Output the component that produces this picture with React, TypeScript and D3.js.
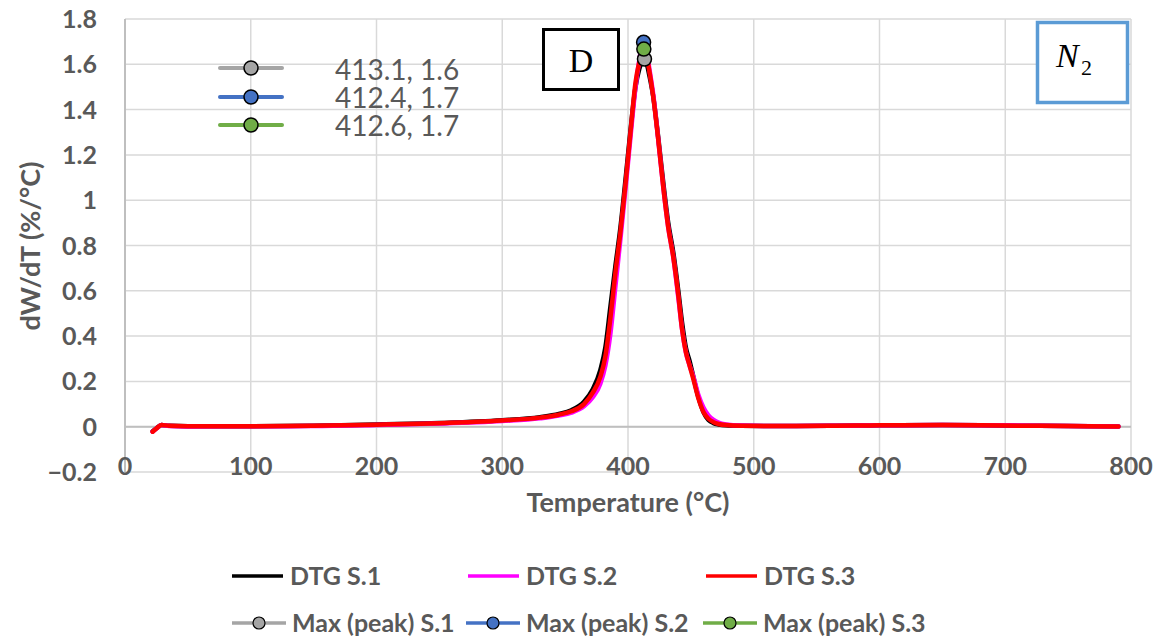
import React from "react";
import * as d3 from "d3";

const temps = [22, 25, 29, 35, 50, 100, 150, 200, 250, 300, 330, 345, 355, 365, 372, 378, 382, 386, 390, 394, 398, 402, 406, 409, 411, 413, 415, 417, 420, 424, 428, 432, 436, 440, 443, 446, 449, 452, 456, 460, 464, 468, 472, 478, 490, 520, 560, 600, 650, 700, 750, 790];

const dtgS1 = [-0.02, -0.007, 0.008, 0.004, 0.002, 0.002, 0.004, 0.01, 0.016, 0.028, 0.042, 0.056, 0.073, 0.11, 0.165, 0.25, 0.35, 0.53, 0.71, 0.88, 1.09, 1.31, 1.5, 1.58, 1.61, 1.62, 1.6, 1.55, 1.46, 1.28, 1.08, 0.9, 0.77, 0.6, 0.46, 0.35, 0.29, 0.22, 0.13, 0.065, 0.03, 0.016, 0.01, 0.006, 0.004, 0.003, 0.004, 0.006, 0.007, 0.005, 0.003, 0.001];
const dtgS2 = [-0.022, -0.008, 0.007, 0.003, 0.001, 0.002, 0.003, 0.008, 0.014, 0.025, 0.037, 0.049, 0.062, 0.09, 0.13, 0.19, 0.27, 0.41, 0.62, 0.83, 1.05, 1.28, 1.5, 1.62, 1.68, 1.69, 1.65, 1.58, 1.47, 1.27, 1.06, 0.88, 0.75, 0.57, 0.43, 0.33, 0.27, 0.22, 0.14, 0.085, 0.05, 0.03, 0.018, 0.01, 0.005, 0.003, 0.004, 0.006, 0.008, 0.006, 0.003, 0.001];
const dtgS3 = [-0.022, -0.008, 0.008, 0.004, 0.002, 0.002, 0.004, 0.009, 0.015, 0.027, 0.04, 0.053, 0.068, 0.1, 0.15, 0.22, 0.31, 0.48, 0.68, 0.86, 1.07, 1.3, 1.52, 1.61, 1.65, 1.665, 1.63, 1.57, 1.46, 1.27, 1.06, 0.88, 0.75, 0.58, 0.43, 0.33, 0.27, 0.21, 0.125, 0.065, 0.035, 0.02, 0.012, 0.007, 0.004, 0.003, 0.004, 0.006, 0.007, 0.005, 0.003, 0.001];

const peakNames = ["Max (peak) S.1", "Max (peak) S.2", "Max (peak) S.3"];
const peakT = [413.1, 412.4, 412.6];
const peakV = [1.623, 1.697, 1.667];
const peakLabels = ["413.1, 1.6", "412.4, 1.7", "412.6, 1.7"];
const peakColors = ["#a5a5a5", "#4472c4", "#70ad47"];

const dtgNames = ["DTG S.1", "DTG S.2", "DTG S.3"];
const dtgColors = ["#000000", "#ff00ff", "#ff0000"];

const xTicks = [0, 100, 200, 300, 400, 500, 600, 700, 800];
const yTicks = [-0.2, 0, 0.2, 0.4, 0.6, 0.8, 1, 1.2, 1.4, 1.6, 1.8];

const W = 1153;
const H = 641;
const TXT = "#595959";
const FONT = "Lato, 'Open Sans', sans-serif";

export default function App() {
  const x = d3.scaleLinear().domain([0, 800]).range([125, 1131]);
  const y = d3.scaleLinear().domain([-0.2, 1.8]).range([472, 19]);
  const series = [dtgS1, dtgS2, dtgS3];
  const line = d3
    .line<number>()
    .x((_, i) => x(temps[i]))
    .y((v) => y(v))
    .curve(d3.curveMonotoneX);

  const fmtY = (v: number) => (Math.abs(v) < 1e-9 ? "0" : d3.format("")(+v.toFixed(1)));

  const legendRow1X = [232, 468, 706];
  const legendRow2X = [232, 466, 703];

  return (
    <svg width={W} height={H} style={{ position: "absolute", left: 0, top: 0, background: "#fff" }}>
      <rect x={0} y={0} width={W} height={H} fill="#fff" />
      {/* gridlines */}
      {yTicks.map((t) => (
        <line key={"gy" + t} x1={x(0)} x2={x(800)} y1={y(t)} y2={y(t)} stroke="#d9d9d9" strokeWidth={1.5} />
      ))}
      {xTicks.map((t) => (
        <line key={"gx" + t} x1={x(t)} x2={x(t)} y1={y(1.8)} y2={y(-0.2)} stroke="#d9d9d9" strokeWidth={1.5} />
      ))}
      {/* axes */}
      <line x1={x(0)} x2={x(800)} y1={y(0)} y2={y(0)} stroke="#bfbfbf" strokeWidth={2} />
      <line x1={x(0)} x2={x(0)} y1={y(1.8)} y2={y(-0.2)} stroke="#bfbfbf" strokeWidth={2} />

      {/* y tick labels */}
      {yTicks.map((t) => (
        <text key={"ty" + t} x={97} y={y(t)} dy="0.36em" textAnchor="end" fontFamily={FONT} fontWeight={700} fontSize={25} fill={TXT}>
          {fmtY(t)}
        </text>
      ))}
      {/* x tick labels */}
      {xTicks.map((t) => (
        <text key={"tx" + t} x={x(t)} y={466} dy="0.36em" textAnchor="middle" fontFamily={FONT} fontWeight={700} fontSize={25} fill={TXT}>
          {t}
        </text>
      ))}

      {/* axis titles */}
      <text x={628} y={502} dy="0.36em" textAnchor="middle" fontFamily={FONT} fontWeight={700} fontSize={27} fill={TXT}>
        Temperature (°C)
      </text>
      <text transform="translate(30,246) rotate(-90)" dy="0.36em" textAnchor="middle" fontFamily={FONT} fontWeight={700} fontSize={27} fill={TXT}>
        dW/dT (%/°C)
      </text>

      {/* curves */}
      {series.map((s, i) => (
        <path key={"c" + i} d={line(s) || ""} fill="none" stroke={dtgColors[i]} strokeWidth={4.5} strokeLinejoin="round" strokeLinecap="round" />
      ))}

      {/* peak markers */}
      {peakT.map((t, i) => (
        <circle key={"pk" + i} cx={x(t)} cy={y(peakV[i])} r={7} fill={peakColors[i]} stroke="#000" strokeWidth={1.5} />
      ))}

      {/* data label keys */}
      {peakLabels.map((lab, i) => {
        const cy = [68, 97, 125][i];
        return (
          <g key={"dl" + i}>
            <line x1={220} x2={282} y1={cy} y2={cy} stroke={peakColors[i]} strokeWidth={4} strokeLinecap="round" />
            <circle cx={251} cy={cy} r={7} fill={peakColors[i]} stroke="#000" strokeWidth={1.5} />
            <text x={335} y={[70, 98, 126][i]} dy="0.36em" fontFamily={FONT} fontSize={28} fill={TXT}>
              {lab}
            </text>
          </g>
        );
      })}

      {/* D box */}
      <rect x={543.5} y={29.5} width={75} height={60} fill="#fff" stroke="#000" strokeWidth={3} />
      <text x={581} y={60} dy="0.35em" textAnchor="middle" fontFamily="'Liberation Serif', 'DejaVu Serif', serif" fontSize={34} fill="#000">
        D
      </text>

      {/* N2 box */}
      <rect x={1037.5} y={22.5} width={90} height={80} fill="#fff" stroke="#5b9bd5" strokeWidth={3.5} />
      <text x={1056} y={67} fontFamily="'Liberation Serif', 'DejaVu Serif', serif" fontStyle="italic" fontSize={34} fill="#000">
        N
      </text>
      <text x={1081} y={75} fontFamily="'Liberation Serif', 'DejaVu Serif', serif" fontSize={22} fill="#000">
        2
      </text>

      {/* legend row 1 */}
      {dtgNames.map((n, i) => (
        <g key={"l1" + i}>
          <line x1={legendRow1X[i]} x2={legendRow1X[i] + 51} y1={576} y2={576} stroke={dtgColors[i]} strokeWidth={3.5} />
          <text x={legendRow1X[i] + 58} y={576} dy="0.36em" fontFamily={FONT} fontWeight={700} fontSize={25} fill={TXT}>
            {n}
          </text>
        </g>
      ))}
      {/* legend row 2 */}
      {peakNames.map((n, i) => (
        <g key={"l2" + i}>
          <line x1={legendRow2X[i]} x2={legendRow2X[i] + 54} y1={623} y2={623} stroke={peakColors[i]} strokeWidth={3.5} />
          <circle cx={legendRow2X[i] + 27} cy={623} r={6} fill={peakColors[i]} stroke="#000" strokeWidth={1.2} />
          <text x={legendRow2X[i] + 60} y={623} dy="0.36em" fontFamily={FONT} fontWeight={700} fontSize={25} fill={TXT}>
            {n}
          </text>
        </g>
      ))}
    </svg>
  );
}
